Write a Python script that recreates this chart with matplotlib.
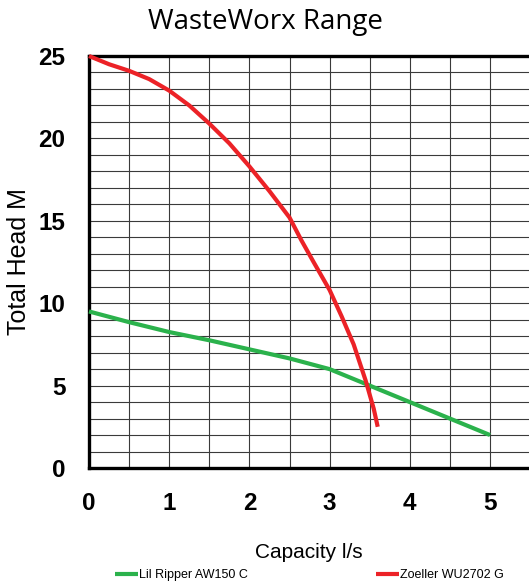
import matplotlib
matplotlib.use("Agg")
import matplotlib.pyplot as plt
from matplotlib.ticker import MultipleLocator

# =====================================================
# DATA
# =====================================================

lil_ripper_flow = [0, 0.5, 1, 1.5, 2, 2.5, 3, 3.5, 4, 4.5, 5]
lil_ripper_head = [9.5, 8.85, 8.25, 7.75, 7.2, 6.65, 6.0, 5.0, 4.0, 3.0, 2.0]

zoeller_flow = [0, 0.25, 0.5, 0.75, 1, 1.25, 1.5, 1.75, 2, 2.25, 2.5,
                2.65, 2.8, 3.0, 3.15, 3.3, 3.45, 3.55, 3.6]
zoeller_head = [25, 24.5, 24.1, 23.6, 22.9, 22.0, 20.9, 19.7, 18.3, 16.8, 15.2,
                13.8, 12.5, 10.8, 9.2, 7.5, 5.3, 3.6, 2.5]

x_ticks = [0, 1, 2, 3, 4, 5]
y_ticks = [0, 5, 10, 15, 20, 25]

GREEN = "#2bb24c"
RED = "#ec2227"

# =====================================================
# FIGURE
# =====================================================

W, H = 529, 582
fig = plt.figure(figsize=(W / 100, H / 100), dpi=100)
ax = fig.add_axes([89 / W, 1 - 468 / H, 1 - 89 / W, (468 - 56) / H])

ax.plot(lil_ripper_flow, lil_ripper_head, color=GREEN, lw=3,
        label="Lil Ripper AW150 C", clip_on=False, zorder=3,
        solid_joinstyle="round", solid_capstyle="butt")
ax.plot(zoeller_flow, zoeller_head, color=RED, lw=3,
        label="Zoeller WU2702 G", clip_on=False, zorder=3,
        solid_joinstyle="round", solid_capstyle="butt")

ax.set_xlim(0, (W - 89) / 80.2)
ax.set_ylim(0, 25)

ax.xaxis.set_minor_locator(MultipleLocator(0.5))
ax.yaxis.set_minor_locator(MultipleLocator(1))
ax.set_xticks(x_ticks)
ax.set_yticks(y_ticks)
ax.grid(True, which="both", color="#3a3a3a", lw=0.8)
ax.set_axisbelow(True)

ax.tick_params(which="both", length=0)
ax.tick_params(axis="x", pad=17)
ax.tick_params(axis="y", pad=17)
for lab in ax.get_xticklabels() + ax.get_yticklabels():
    lab.set_fontfamily("Liberation Sans")
    lab.set_fontweight("bold")
    lab.set_fontsize(17.5)

for side in ["left", "bottom", "top"]:
    ax.spines[side].set_linewidth(2.4)
    ax.spines[side].set_color("black")
ax.spines["right"].set_visible(False)

ax.set_xlabel("Capacity l/s", fontfamily="Liberation Sans", fontsize=15)
ax.xaxis.set_label_coords(0.5, -(543 - 468) / 412)
ax.set_ylabel("Total Head M", fontfamily="Liberation Sans", fontsize=18)
ax.yaxis.set_label_coords((31 - 89) / 440, 0.5)

fig.text(265 / W, 1 - 22 / H, "WasteWorx Range", fontfamily="Open Sans",
         fontsize=20, ha="center", va="center")

fig.legend(loc="center left", bbox_to_anchor=(115 / W, 1 - 575 / H),
           ncol=2, frameon=False, borderpad=0, borderaxespad=0,
           handlelength=1.8, handletextpad=0.1, columnspacing=10.3,
           prop={"family": "Liberation Sans", "size": 9})

fig.savefig("out.png", dpi=100)
